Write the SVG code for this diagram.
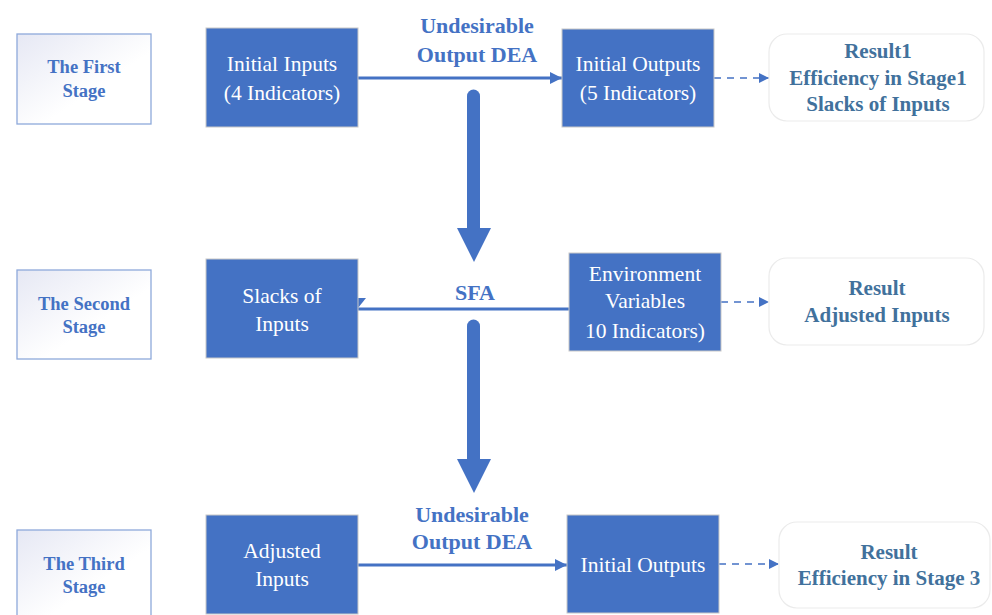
<svg xmlns="http://www.w3.org/2000/svg" width="992" height="615" viewBox="0 0 992 615">
<defs>
<linearGradient id="stg" x1="0" y1="0" x2="1" y2="1">
<stop offset="0" stop-color="#E6E8F4"/>
<stop offset="0.6" stop-color="#FFFFFF"/>
</linearGradient>
<marker id="ah" viewBox="0 0 10 10" refX="10" refY="5" markerWidth="12" markerHeight="12" markerUnits="userSpaceOnUse" orient="auto">
<path d="M0,0 L10,5 L0,10 z" fill="#4472C4"/>
</marker>
<marker id="ahs" viewBox="0 0 10 10" refX="10" refY="5" markerWidth="10" markerHeight="10" markerUnits="userSpaceOnUse" orient="auto">
<path d="M0,0 L10,5 L0,10 z" fill="#4472C4"/>
</marker>
</defs>
<style>
text{font-family:'Liberation Serif','Times New Roman',Times,'DejaVu Serif','Noto Serif',serif;text-anchor:middle}
.stage{fill:url(#stg);stroke:#8EA9DB;stroke-width:1.3}
.blue{fill:#4472C4;stroke:#C8C8C8;stroke-width:1}
.res{fill:#FFFFFF;stroke:#EBEBEB;stroke-width:1.2}
.st{font-weight:bold;font-size:18.5px;fill:#4472C4}
.bt{font-size:21.5px;fill:#FFFFFF}
.rt{font-weight:bold;font-size:21px;fill:#41719C}
.lt{font-weight:bold;font-size:22px;fill:#4472C4}
.ln{stroke:#4472C4;stroke-width:3;fill:none}
.dl{stroke:#4472C4;stroke-width:1.6;fill:none;stroke-dasharray:7,6}
</style>

<g id="connectors">
<line class="ln" x1="358" y1="78" x2="562" y2="78" marker-end="url(#ah)"/>
<line class="dl" x1="714" y1="78" x2="769" y2="78" marker-end="url(#ahs)"/>
<line class="ln" x1="569" y1="309" x2="358" y2="309"/>
<polygon points="358,298 366,298 358,308" fill="#4472C4"/>
<line class="dl" x1="721" y1="302" x2="769" y2="302" marker-end="url(#ahs)"/>
<line class="ln" x1="358" y1="565" x2="567" y2="565" marker-end="url(#ah)"/>
<line class="dl" x1="719" y1="564" x2="779" y2="564" marker-end="url(#ahs)"/>
<line x1="473.5" y1="96" x2="473.5" y2="232" stroke="#4472C4" stroke-width="13" stroke-linecap="round"/>
<polygon points="457,228 491,228 474,262" fill="#4472C4"/>
<line x1="473.5" y1="326" x2="473.5" y2="463" stroke="#4472C4" stroke-width="13" stroke-linecap="round"/>
<polygon points="457,459 491,459 474,493" fill="#4472C4"/>
<text class="lt" x="477" y="33" font-family="Liberation Serif, serif">Undesirable</text>
<text class="lt" x="477" y="62" font-family="Liberation Serif, serif">Output DEA</text>
<text class="lt" x="475" y="300" font-family="Liberation Serif, serif">SFA</text>
<text class="lt" x="472" y="522" font-family="Liberation Serif, serif">Undesirable</text>
<text class="lt" x="472" y="549" font-family="Liberation Serif, serif">Output DEA</text>
</g>

<g id="stage1">
<rect class="stage" x="17" y="34" width="134" height="90"/>
<text class="st" x="84" y="73">The First</text>
<text class="st" x="84" y="97">Stage</text>
</g>
<g id="stage2">
<rect class="stage" x="17" y="270" width="134" height="89"/>
<text class="st" x="84" y="310">The Second</text>
<text class="st" x="84" y="333">Stage</text>
</g>
<g id="stage3">
<rect class="stage" x="17" y="530" width="134" height="90"/>
<text class="st" x="84" y="570">The Third</text>
<text class="st" x="84" y="593">Stage</text>
</g>

<g id="initial-inputs">
<rect class="blue" x="206" y="28" width="152" height="99"/>
<text class="bt" x="282" y="71">Initial Inputs</text>
<text class="bt" x="282" y="100">(4 Indicators)</text>
</g>
<g id="initial-outputs-1">
<rect class="blue" x="562" y="29" width="152" height="98"/>
<text class="bt" x="638" y="71">Initial Outputs</text>
<text class="bt" x="638" y="100">(5 Indicators)</text>
</g>
<g id="slacks">
<rect class="blue" x="206" y="259" width="152" height="99"/>
<text class="bt" x="282" y="303">Slacks of</text>
<text class="bt" x="282" y="331">Inputs</text>
</g>
<g id="environment">
<rect class="blue" x="569" y="253" width="152" height="98"/>
<text class="bt" x="645" y="281">Environment</text>
<text class="bt" x="645" y="308">Variables</text>
<text class="bt" x="645" y="338">10 Indicators)</text>
</g>
<g id="adjusted-inputs">
<rect class="blue" x="206" y="515" width="152" height="99"/>
<text class="bt" x="282" y="558">Adjusted</text>
<text class="bt" x="282" y="586">Inputs</text>
</g>
<g id="initial-outputs-3">
<rect class="blue" x="567" y="515" width="152" height="98"/>
<text class="bt" x="643" y="572">Initial Outputs</text>
</g>

<g id="result1">
<rect class="res" x="769" y="34" width="215" height="87" rx="18"/>
<text class="rt" x="878" y="58">Result1</text>
<text class="rt" x="878" y="85">Efficiency in Stage1</text>
<text class="rt" x="878" y="111">Slacks of Inputs</text>
</g>
<g id="result2">
<rect class="res" x="769" y="258" width="215" height="87" rx="18"/>
<text class="rt" x="877" y="295">Result</text>
<text class="rt" x="877" y="322">Adjusted Inputs</text>
</g>
<g id="result3">
<rect class="res" x="779" y="522" width="211" height="86" rx="18"/>
<text class="rt" x="889" y="559">Result</text>
<text class="rt" x="889" y="585">Efficiency in Stage 3</text>
</g>
</svg>
